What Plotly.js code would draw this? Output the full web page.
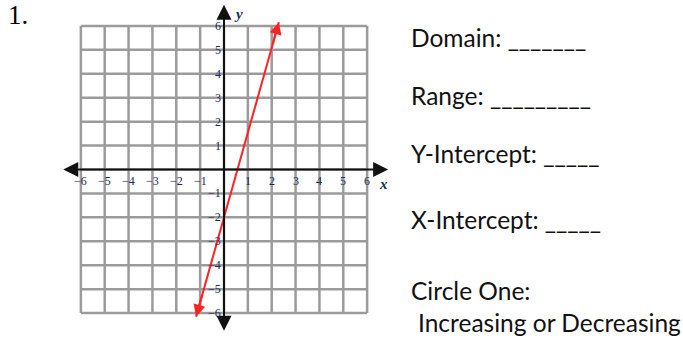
<!DOCTYPE html>
<html>
<head>
<meta charset="utf-8">
<script src="https://cdn.plot.ly/plotly-3.0.1.min.js"></script>
<style>html,body{margin:0;padding:0;background:#fff;}#chart{width:683px;height:339px;}</style>
</head>
<body>
<div id="chart"></div>
<script>
// ---- data ----
const gridVals = [-6,-5,-4,-3,-2,-1,0,1,2,3,4,5,6];
const tickVals = [-6,-5,-4,-3,-2,-1,1,2,3,4,5,6];
const tickLabels = ['−6','−5','−4','−3','−2','−1','1','2','3','4','5','6'];
const lineX = [-1.17, 2.3];
const lineY = [-6.15, 6.15];
const axisMin = -6.8, axisMax = 6.88;
const problemNumber = '1.';
const questionLines = ['Domain: _______','Range: _________','Y-Intercept: _____','X-Intercept: _____','Circle One:','Increasing or Decreasing'];

// ---- layout helpers ----
const W = 683, H = 339;
const M = {l:57, r:292, t:2, b:2};
const PW = W - M.l - M.r, PH = H - M.t - M.b;
const px2x = p => (p - M.l) / PW;
const px2y = p => (H - M.b - p) / PH;

const shapes = [];
gridVals.forEach(v => {
  shapes.push({type:'line', xref:'x', yref:'y', x0:v, x1:v, y0:-6, y1:6, line:{color:'#9b9b9b', width:2.5}, layer:'below'});
  shapes.push({type:'line', xref:'x', yref:'y', x0:-6, x1:6, y0:v, y1:v, line:{color:'#9b9b9b', width:2.5}, layer:'below'});
});

const ann = [];
// axes with arrows
ann.push({x:axisMax, y:0, ax:axisMin, ay:0, xref:'x', yref:'y', axref:'x', ayref:'y', text:'', showarrow:true,
  arrowhead:2, arrowside:'end+start', arrowsize:1.5, arrowwidth:2, arrowcolor:'#111', standoff:0, startstandoff:0});
ann.push({x:0, y:axisMax, ax:0, ay:axisMin, xref:'x', yref:'y', axref:'x', ayref:'y', text:'', showarrow:true,
  arrowhead:2, arrowside:'end+start', arrowsize:1.5, arrowwidth:2, arrowcolor:'#111', standoff:0, startstandoff:0});
// red line arrowheads
const n = lineX.length;
const f = 0.08;
ann.push({x:lineX[n-1], y:lineY[n-1], ax:lineX[n-1]-(lineX[n-1]-lineX[0])*f, ay:lineY[n-1]-(lineY[n-1]-lineY[0])*f,
  xref:'x', yref:'y', axref:'x', ayref:'y', text:'', showarrow:true, arrowhead:2, arrowsize:1.2, arrowwidth:2, arrowcolor:'#ff2222', standoff:0});
ann.push({x:lineX[0], y:lineY[0], ax:lineX[0]+(lineX[n-1]-lineX[0])*f, ay:lineY[0]+(lineY[n-1]-lineY[0])*f,
  xref:'x', yref:'y', axref:'x', ayref:'y', text:'', showarrow:true, arrowhead:2, arrowsize:1.2, arrowwidth:2, arrowcolor:'#ff2222', standoff:0});

// tick labels
const tickFont = {family:'Liberation Serif, serif', size:12, color:'#1f2850'};
tickVals.forEach((v,i) => {
  ann.push({x:v, y:-0.5, xref:'x', yref:'y', text:tickLabels[i], showarrow:false, font:tickFont, xanchor:'center', yanchor:'middle'});
  ann.push({x:-0.03, y:v, xref:'x', yref:'y', text:tickLabels[i], showarrow:false, font:tickFont, xanchor:'right', yanchor:'middle'});
});
// axis letters
const letterFont = {family:'Liberation Serif, serif', size:15, color:'#1c2a5c'};
ann.push({x:0.62, y:6.5, xref:'x', yref:'y', text:'<b><i>y</i></b>', showarrow:false, font:letterFont, xanchor:'center', yanchor:'middle'});
ann.push({x:6.68, y:-0.62, xref:'x', yref:'y', text:'<b><i>x</i></b>', showarrow:false, font:letterFont, xanchor:'center', yanchor:'middle'});

// problem number
ann.push({x:px2x(6), y:px2y(32), xref:'paper', yref:'paper', text:problemNumber, showarrow:false,
  font:{family:'Liberation Serif, serif', size:27, color:'#000'}, xanchor:'left', yanchor:'bottom'});

// questions
const qFont = {family:'Lato, sans-serif', size:24.5, color:'#111'};
const qBase = [46, 104, 162, 228, 299, 331];
const qX = [410, 410, 410, 410, 410, 417];
questionLines.forEach((t,i) => {
  ann.push({x:px2x(qX[i]), y:px2y(qBase[i]+7), xref:'paper', yref:'paper', text:t, showarrow:false,
    font:qFont, xanchor:'left', yanchor:'bottom', borderpad:0});
});

const traces = [{x:lineX, y:lineY, type:'scatter', mode:'lines', line:{color:'#ff2222', width:2}, hoverinfo:'skip', cliponaxis:false}];

const layout = {
  width:W, height:H, margin:M, paper_bgcolor:'#fff', plot_bgcolor:'#fff', showlegend:false,
  xaxis:{range:[-7,7], showgrid:false, zeroline:false, showticklabels:false, ticks:'', showline:false, fixedrange:true},
  yaxis:{range:[-7,7], showgrid:false, zeroline:false, showticklabels:false, ticks:'', showline:false, fixedrange:true},
  shapes:shapes, annotations:ann
};
Plotly.newPlot('chart', traces, layout, {displayModeBar:false, staticPlot:true});
</script>
</body>
</html>
